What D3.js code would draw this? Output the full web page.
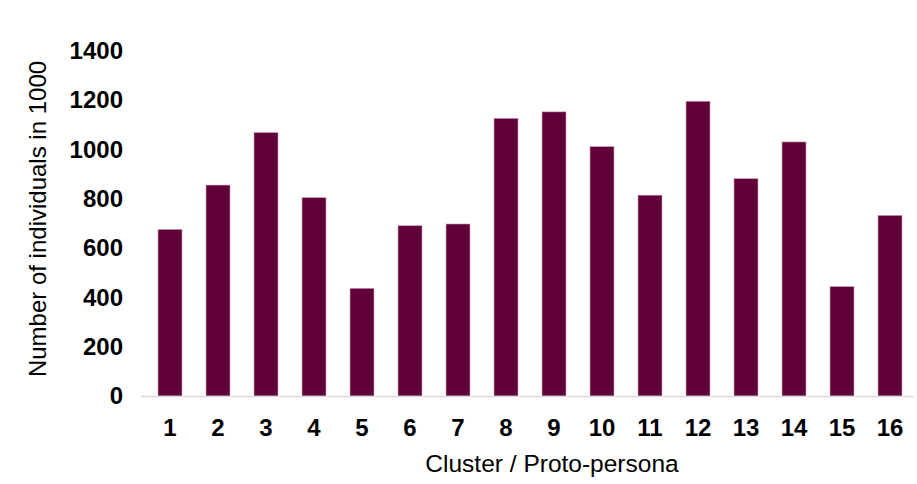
<!DOCTYPE html>
<html>
<head>
<meta charset="utf-8">
<script src="https://cdn.jsdelivr.net/npm/d3@7"></script>
<style>
  html, body { margin: 0; padding: 0; background: #fff; }
  svg { display: block; }
</style>
</head>
<body>
<script>
const categories = ["1","2","3","4","5","6","7","8","9","10","11","12","13","14","15","16"];
const values = [676, 856, 1069, 805, 437, 691, 698, 1127, 1153, 1012, 815, 1196, 882, 1031, 444, 733];
const yTicks = [0, 200, 400, 600, 800, 1000, 1200, 1400];
const xTitle = "Cluster / Proto-persona";
const yTitle = "Number of individuals in 1000";

const W = 917, H = 484;
const margin = { left: 146, right: 3, top: 51, bottom: 88 };
const font = "Liberation Sans, Arial, Helvetica, sans-serif";
const svg = d3.select("body").append("svg").attr("width", W).attr("height", H);

const x = d3.scaleBand().domain(categories).range([margin.left, W - margin.right])
  .paddingInner(0.5).paddingOuter(0.25);
const y = d3.scaleLinear().domain([0, 1400]).range([H - margin.bottom, margin.top]);

svg.append("g").selectAll("rect").data(values).join("rect")
  .attr("x", (d, i) => x(categories[i]))
  .attr("y", d => y(d))
  .attr("width", x.bandwidth())
  .attr("height", d => y(0) - y(d))
  .attr("fill", "#62003a")
  .attr("stroke", "#c9a3b8")
  .attr("stroke-width", 0.6);

// baseline
svg.append("line")
  .attr("x1", margin.left - 5).attr("x2", W - margin.right)
  .attr("y1", y(0) + 0.5).attr("y2", y(0) + 0.5)
  .attr("stroke", "#d9d9d9").attr("stroke-width", 1.5);

const yAxis = svg.append("g")
  .attr("transform", `translate(${margin.left - 23},0)`)
  .call(d3.axisLeft(y).tickValues(yTicks).tickFormat(d3.format("d")).tickSize(0).tickPadding(0));
yAxis.select(".domain").remove();
yAxis.selectAll("text")
  .attr("font-family", font)
  .attr("font-weight", "bold").attr("font-size", 24).attr("fill", "#000");

const xAxis = svg.append("g")
  .attr("transform", `translate(0,${y(0) + 22.5})`)
  .call(d3.axisBottom(x).tickSize(0).tickPadding(0));
xAxis.select(".domain").remove();
xAxis.selectAll("text")
  .attr("font-family", font)
  .attr("font-weight", "bold").attr("font-size", 24).attr("fill", "#000");

svg.append("text")
  .attr("x", 552).attr("y", 471.5)
  .attr("text-anchor", "middle")
  .attr("font-family", font)
  .attr("font-size", 24.5).attr("fill", "#000")
  .text(xTitle);

svg.append("text")
  .attr("transform", `translate(46,219) rotate(-90)`)
  .attr("text-anchor", "middle")
  .attr("font-family", font)
  .attr("font-size", 24).attr("fill", "#000")
  .text(yTitle);
</script>
</body>
</html>
